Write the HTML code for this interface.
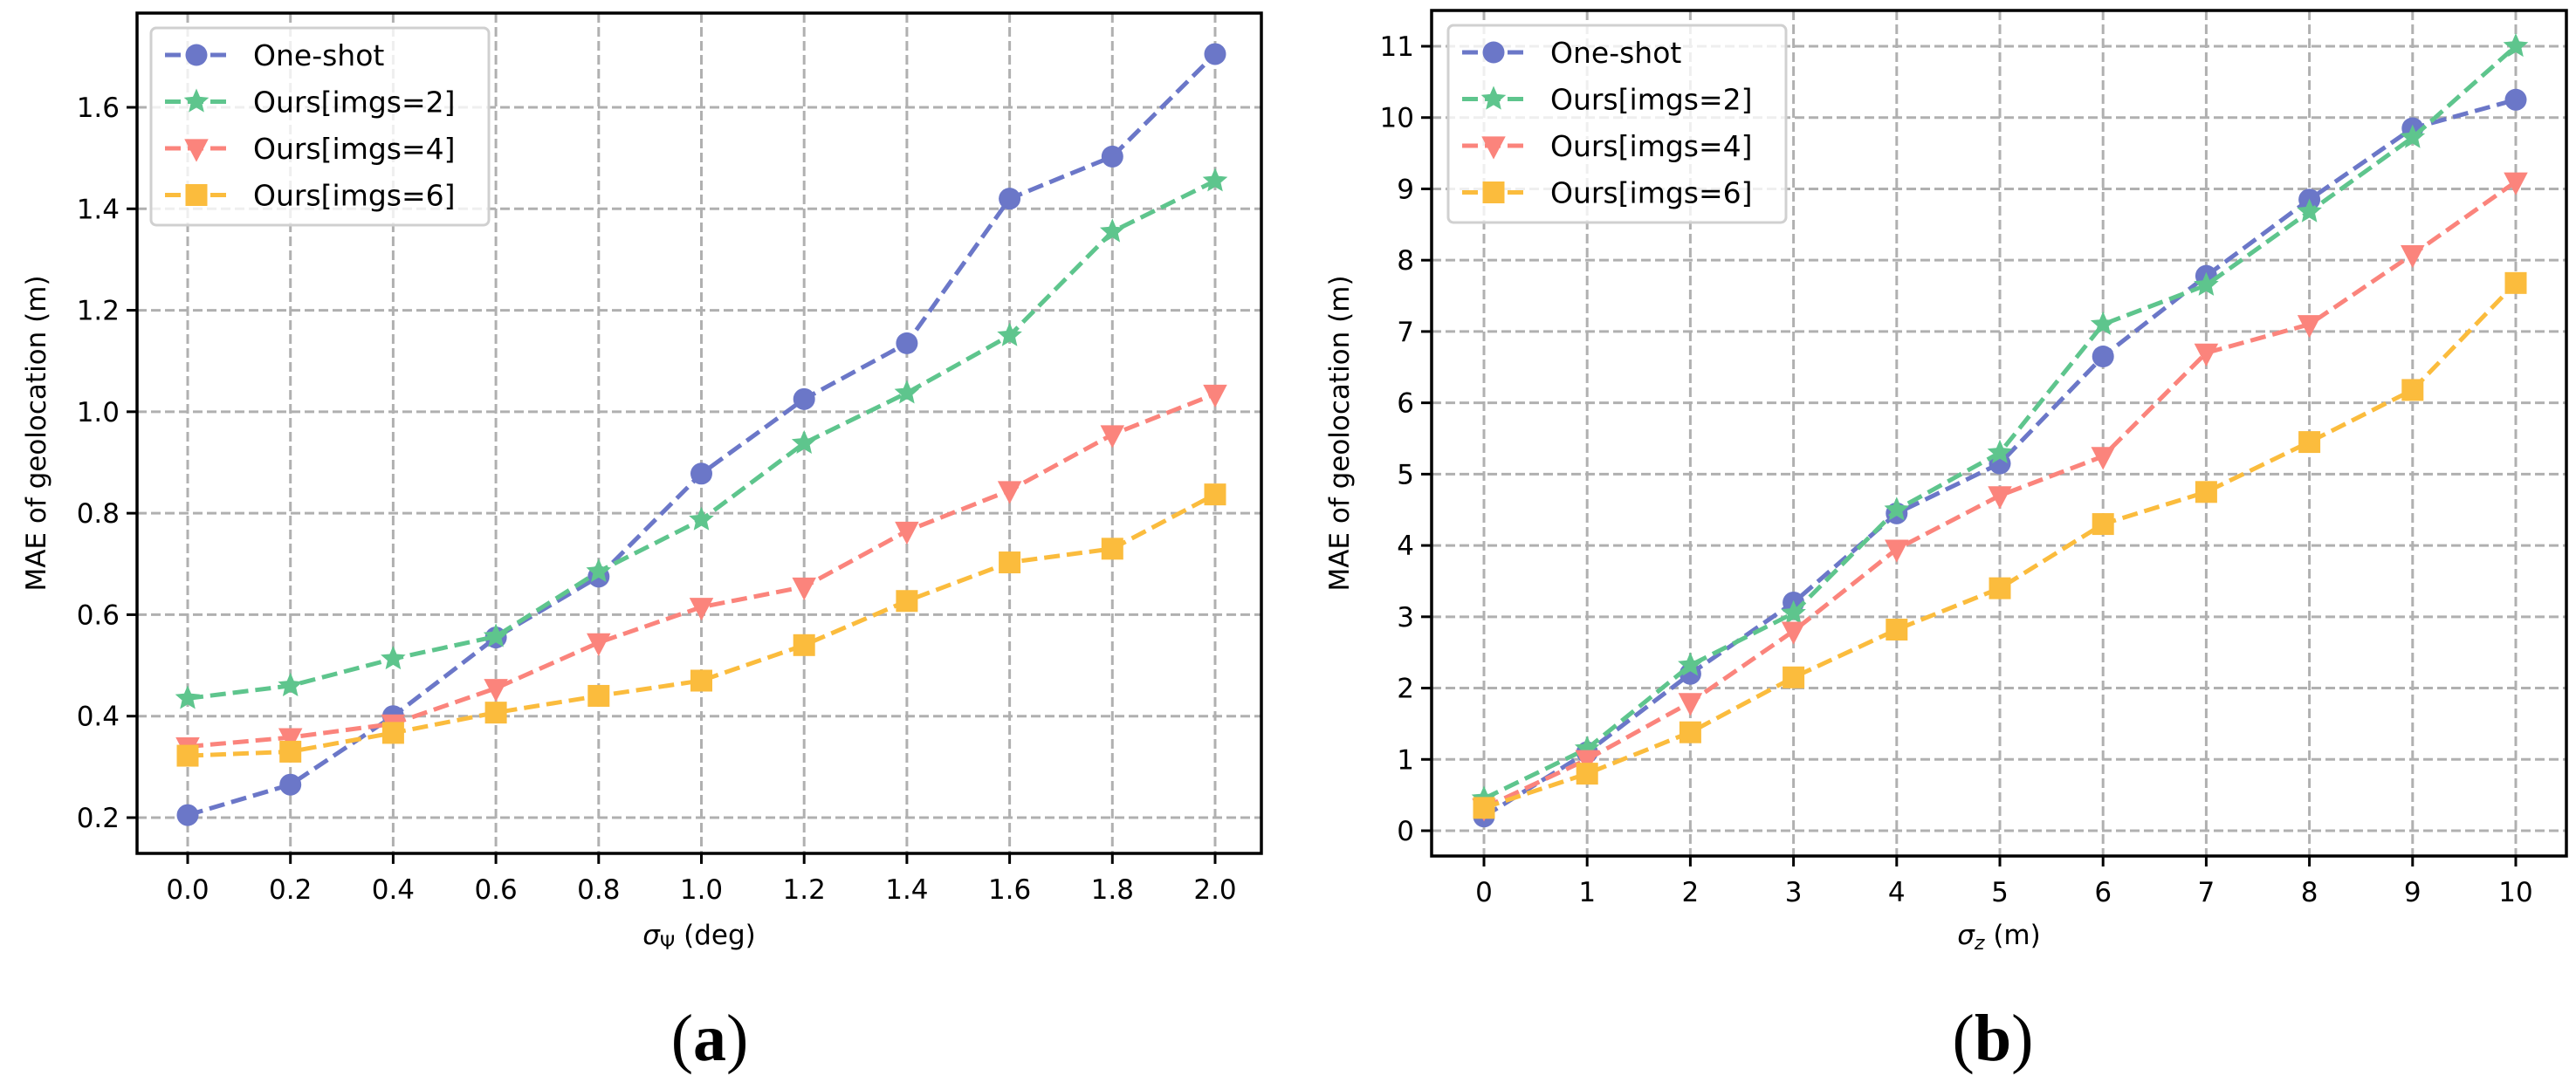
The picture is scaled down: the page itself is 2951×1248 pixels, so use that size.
<!DOCTYPE html>
<html><head><meta charset="utf-8"><style>
html,body{margin:0;padding:0;background:#fff;}
svg{display:block;font-family:"DejaVu Sans","Liberation Sans",sans-serif;}
</style></head><body>
<svg id="fig" width="2951" height="1248" viewBox="0 0 2951 1248" xmlns="http://www.w3.org/2000/svg"></svg>
<script>
const seriesNames = ["One-shot","Ours[imgs=2]","Ours[imgs=4]","Ours[imgs=6]"];
const colors = ["#6b77c8","#5ec58d","#fb847c","#fbbc3d"];
const markers = ["circle","star","tri","square"];

const aX = [0,0.2,0.4,0.6,0.8,1.0,1.2,1.4,1.6,1.8,2.0];
const aOneShot = [0.205,0.265,0.40,0.555,0.675,0.878,1.025,1.135,1.42,1.503,1.705];
const aImgs2 = [0.435,0.46,0.513,0.557,0.685,0.787,0.938,1.037,1.15,1.355,1.455];
const aImgs4 = [0.34,0.358,0.385,0.455,0.545,0.615,0.655,0.765,0.845,0.955,1.035];
const aImgs6 = [0.322,0.33,0.367,0.407,0.44,0.47,0.54,0.627,0.703,0.73,0.837];
const aXTicks = ["0.0","0.2","0.4","0.6","0.8","1.0","1.2","1.4","1.6","1.8","2.0"];
const aYTicks = ["0.2","0.4","0.6","0.8","1.0","1.2","1.4","1.6"];

const bX = [0,1,2,3,4,5,6,7,8,9,10];
const bOneShot = [0.2,1.1,2.2,3.2,4.45,5.15,6.65,7.78,8.85,9.85,10.25];
const bImgs2 = [0.45,1.15,2.32,3.05,4.5,5.3,7.1,7.65,8.68,9.72,11.0];
const bImgs4 = [0.32,1.0,1.8,2.8,3.95,4.7,5.25,6.7,7.1,8.08,9.1];
const bImgs6 = [0.32,0.8,1.38,2.15,2.82,3.4,4.3,4.75,5.45,6.18,7.68];
const bXTicks = ["0","1","2","3","4","5","6","7","8","9","10"];
const bYTicks = ["0","1","2","3","4","5","6","7","8","9","10","11"];

const NS="http://www.w3.org/2000/svg";
const svg=document.getElementById('fig');
function mk(tag,attrs,parent){const e=document.createElementNS(NS,tag);for(const k in attrs)e.setAttribute(k,attrs[k]);(parent||svg).appendChild(e);return e;}

function marker(g,type,cx,cy,col,s){
  let e;
  if(type==="circle"){e=mk('ellipse',{cx:cx,cy:cy,rx:s,ry:s,fill:col},g);}
  else if(type==="square"){e=mk('rect',{x:cx-s,y:cy-s,width:2*s,height:2*s,fill:col},g);}
  else if(type==="tri"){e=mk('polygon',{points:`${cx-s*1.1},${cy-s*0.85} ${cx+s*1.1},${cy-s*0.85} ${cx},${cy+s*1.25}`,fill:col},g);}
  else {let p=[];for(let i=0;i<10;i++){const r=i%2?s*0.55:s*1.2;const a=-Math.PI/2+i*Math.PI/5;p.push((cx+r*Math.cos(a)).toFixed(1)+','+(cy+r*Math.sin(a)).toFixed(1));}
    e=mk('polygon',{points:p.join(' '),fill:col},g);}
  return e;
}

function panel(cfg){
  const g=mk('g',{});
  
  
  const {L,R,T,B,x0,x1,xv0,xv1,y0,y1,yv0,yv1}=cfg;
  const sx=v=>x0+(v-xv0)*(x1-x0)/(xv1-xv0);
  const sy=v=>y0+(v-yv0)*(y1-y0)/(yv1-yv0);
  // grid
  cfg.xticks.forEach((t,i)=>{const x=sx(parseFloat(t));
    const l=mk('line',{x1:x,x2:x,y1:T,y2:B,stroke:'#b0b0b0','stroke-width':3,'stroke-dasharray':'11 5'},g);
    });
  cfg.yticks.forEach((t,i)=>{const y=sy(parseFloat(t));
    const l=mk('line',{x1:L,x2:R,y1:y,y2:y,stroke:'#b0b0b0','stroke-width':3,'stroke-dasharray':'11 5'},g);
    });
  // series
  cfg.series.forEach((vals,si)=>{
    const sg=mk('g',{},g);
    
    
    const pts=vals.map((v,i)=>sx(cfg.xs[i]).toFixed(1)+','+sy(v).toFixed(1)).join(' ');
    mk('polyline',{points:pts,fill:'none',stroke:colors[si],'stroke-width':5,'stroke-dasharray':'18 8'},sg);
    vals.forEach((v,i)=>{const m=marker(sg,markers[si],sx(cfg.xs[i]),sy(v),colors[si],12.5);
      });
  });
  // spines
  const fr=mk('rect',{x:L,y:T,width:R-L,height:B-T,fill:'none',stroke:'#000','stroke-width':3.5},g);
  
  // ticks
  cfg.xticks.forEach(t=>{const x=sx(parseFloat(t));
    mk('line',{x1:x,x2:x,y1:B,y2:B+12,stroke:'#000','stroke-width':3},g);
    const tx=mk('text',{x:x,y:B+52,'font-size':31,'text-anchor':'middle',fill:'#000'},g);tx.textContent=t;
    });
  cfg.yticks.forEach(t=>{const y=sy(parseFloat(t));
    mk('line',{x1:L-12,x2:L,y1:y,y2:y,stroke:'#000','stroke-width':3},g);
    const tx=mk('text',{x:L-20,y:y+11,'font-size':31,'text-anchor':'end',fill:'#000'},g);tx.textContent=t;
    });
  // labels
  const yl=mk('text',{x:0,y:0,'font-size':31,'text-anchor':'middle',transform:`translate(${cfg.ylx},${(T+B)/2}) rotate(-90)`},g);
  yl.textContent='MAE of geolocation (m)';
  
  const xl=mk('text',{x:(L+R)/2,y:1082,'font-size':31,'text-anchor':'middle'},g);
  xl.innerHTML=cfg.xlabel;
  
  const cap=mk('text',{x:cfg.capx,y:1215,'font-size':76,'text-anchor':'middle','font-family':'Liberation Serif, serif'},g);
  cap.innerHTML=cfg.cap;
  
  // legend
  const lg=mk('g',{},g);
  
  mk('rect',{x:cfg.lgx,y:cfg.lgy,width:387,height:226,rx:6,fill:'rgba(255,255,255,0.8)',stroke:'#d0d0d0','stroke-width':3},lg);
  seriesNames.forEach((n,i)=>{const y=cfg.lgy+31+i*53.5;
    const eg=mk('g',{},lg);
    
    mk('line',{x1:cfg.lgx+16,x2:cfg.lgx+90,y1:y,y2:y,stroke:colors[i],'stroke-width':5,'stroke-dasharray':'18 8'},eg);
    marker(eg,markers[i],cfg.lgx+52,y,colors[i],12.5);
    const t=mk('text',{x:cfg.lgx+117,y:y+12,'font-size':33},eg);t.textContent=n;});
}

panel({name:'chart-a',L:157,R:1445,T:15,B:978,x0:215,x1:1392,xv0:0,xv1:2,y0:937,y1:123,yv0:0.2,yv1:1.6,
  xs:aX,series:[aOneShot,aImgs2,aImgs4,aImgs6],xticks:aXTicks,yticks:aYTicks,ylx:52,
  xlabel:'<tspan font-style="italic">σ</tspan><tspan font-size="22" dy="6">Ψ</tspan><tspan dy="-6"> (deg)</tspan>',
  cap:'(<tspan font-weight="bold">a</tspan>)',capx:813,lgx:173,lgy:32});
panel({name:'chart-b',L:1640,R:2940,T:12,B:981,x0:1700,x1:2882,xv0:0,xv1:10,y0:952,y1:53,yv0:0,yv1:11,
  xs:bX,series:[bOneShot,bImgs2,bImgs4,bImgs6],xticks:bXTicks,yticks:bYTicks,ylx:1545,
  xlabel:'<tspan font-style="italic">σ</tspan><tspan font-style="italic" font-size="22" dy="6">z</tspan><tspan dy="-6"> (m)</tspan>',
  cap:'(<tspan font-weight="bold">b</tspan>)',capx:2283,lgx:1659,lgy:29});
</script>
</body></html>
